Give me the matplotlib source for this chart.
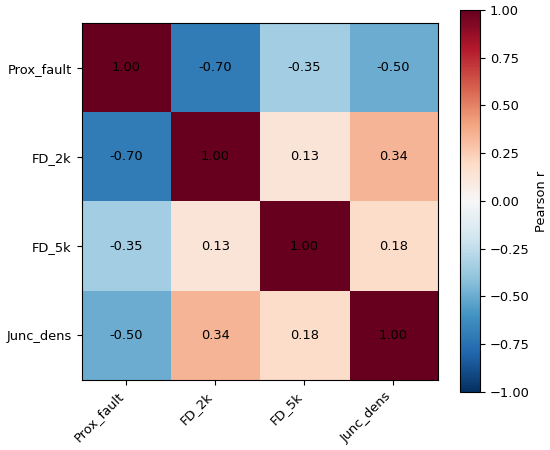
import matplotlib
matplotlib.use("Agg")
import matplotlib.pyplot as plt
import numpy as np

labels = ["Prox_fault", "FD_2k", "FD_5k", "Junc_dens"]
corr = [
    [1.00, -0.70, -0.35, -0.50],
    [-0.70, 1.00, 0.13, 0.34],
    [-0.35, 0.13, 1.00, 0.18],
    [-0.50, 0.34, 0.18, 1.00],
]

plt.rcParams["font.size"] = 9.4
data = np.array(corr)
fig = plt.figure(figsize=(5.5, 4.5), dpi=100)
W, H = 550, 450
ax = fig.add_axes([81.5 / W, 1 - 380 / H, (438 - 81.5) / W, (380 - 23) / H])
im = ax.imshow(data, cmap="RdBu_r", vmin=-1, vmax=1, aspect="auto")
ax.set_xticks(range(len(labels)))
ax.set_yticks(range(len(labels)))
ax.set_xticklabels(labels, rotation=45, ha="right")
ax.set_yticklabels(labels)
for i in range(len(labels)):
    for j in range(len(labels)):
        ax.text(j, i, f"{data[i, j]:.2f}", ha="center", va="center", color="black")
cax = fig.add_axes([460 / W, 1 - 392 / H, 20 / W, (392 - 10) / H])
cb = fig.colorbar(im, cax=cax)
cb.set_label("Pearson r")
fig.savefig("out.png", dpi=100)
